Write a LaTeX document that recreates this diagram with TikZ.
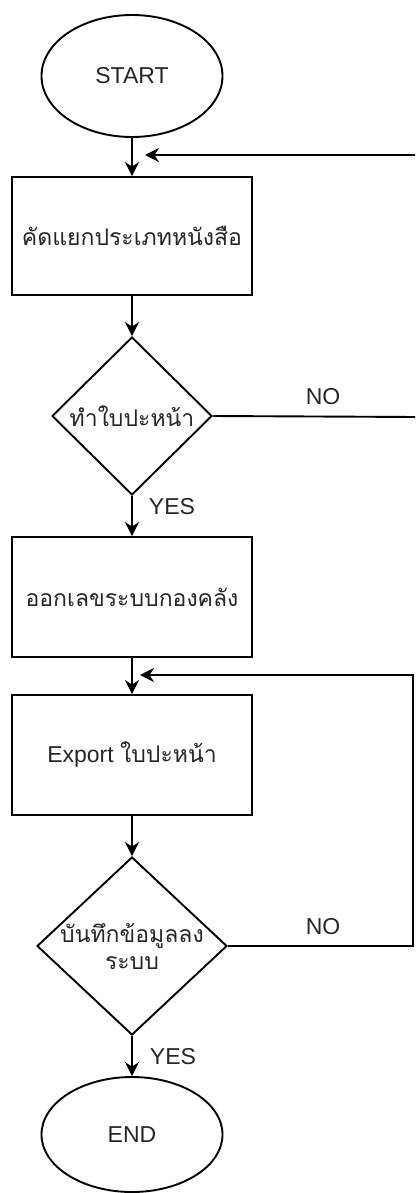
\documentclass[tikz,border=0pt]{standalone}
\usepackage{fontspec}
\setmainfont{Liberation Sans}
\newfontfamily\thai[Script=Thai]{Loma}
\usetikzlibrary{shapes.geometric,arrows.meta}
\tikzset{
 term/.style={draw, ellipse, line width=1.9pt, minimum width=181pt, minimum height=122pt, inner sep=0pt},
 proc/.style={draw, rectangle, line width=1.9pt, minimum width=240pt, minimum height=120pt, inner sep=0pt},
 dec/.style={draw, diamond, line width=1.9pt, inner sep=0pt},
 flow/.style={line width=1.9pt, -{Stealth[length=14pt,width=14pt,inset=4.5pt]}},
 plain/.style={line width=1.9pt},
 lbl/.style={inner sep=0pt},
 every node/.style={font=\fontsize{23}{27}\selectfont, text=black!85}
}
\begin{document}
\begin{tikzpicture}[x=1pt,y=-1pt]
\useasboundingbox (0,0) rectangle (415,1193);
\clip (0,0) rectangle (415,1193);
\node[term] (start) at (132,76) {START};
\node[proc, minimum height=118pt] (b1) at (132,236) {\thai คัดแยกประเภทหนังสือ};
\node[dec, minimum width=160pt, minimum height=158pt] (d1) at (132,416) {};
\node[lbl] (d1t) at (d1.center) {\thai ทำใบปะหน้า};
\node[proc] (b2) at (132,597) {\thai ออกเลขระบบกองคลัง};
\node[proc] (b3) at (132,755) {Export {\thai ใบปะหน้า}};
\node[dec, minimum width=190pt, minimum height=178pt] (d2) at (132,946) {};
\node[lbl, align=center] (d2t) at (d2.center) {\thai บันทึกข้อมูลลง\\\thai ระบบ};
\node[term, minimum height=115pt] (end) at (132,1134.5) {END};

\node[lbl] (no1) at (323,397) {NO};
\node[lbl] (yes1) at (172,507) {YES};
\node[lbl] (no2) at (323,927) {NO};
\node[lbl] (yes2) at (173,1057) {YES};

\coordinate (r1) at (417,155);
\coordinate (t1) at (145,155);
\coordinate (r2) at (417,417);
\coordinate (t2) at (140,675);

\draw[flow] (start) -- (b1);
\draw[flow] (b1) -- (d1);
\draw[flow] (d1) -- (b2);
\draw[flow] (b2) -- (b3);
\draw[flow] (b3) -- (d2);
\draw[flow] (d2) -- (end);
\draw[flow] (r1) -- (t1);
\draw[plain] (d1.east) -- (r2);
\draw[flow] (d2.east) -- ++(185,0) |- (t2);
\end{tikzpicture}
\end{document}
